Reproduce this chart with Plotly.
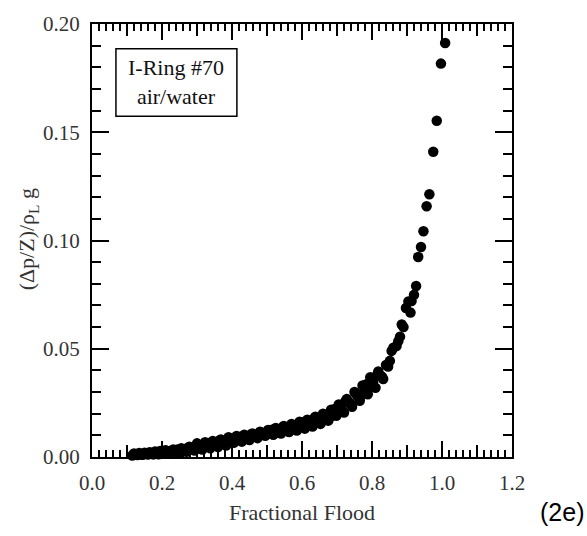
import plotly.graph_objects as go

# Fractional flood vs. specific pressure drop, I-Ring #70, air/water
# run A
flood = [
    0.115, 0.120, 0.125, 0.130, 0.135, 0.140, 0.145, 0.150, 0.155, 0.160,
    0.165, 0.170, 0.175, 0.180, 0.185, 0.190, 0.195, 0.200, 0.205, 0.210,
    0.218, 0.225, 0.232, 0.240, 0.248, 0.255, 0.263, 0.270, 0.278, 0.285,
    0.293, 0.300, 0.308, 0.315, 0.323, 0.330, 0.338, 0.345, 0.353, 0.360,
    0.368, 0.375, 0.383, 0.390, 0.398, 0.405, 0.413, 0.420, 0.428, 0.435,
    0.443, 0.450, 0.458, 0.465, 0.473, 0.480, 0.488, 0.495, 0.503, 0.510,
    0.518, 0.525, 0.533, 0.540, 0.548, 0.555, 0.563, 0.570, 0.578, 0.585,
    0.593, 0.600, 0.608, 0.615, 0.623, 0.630, 0.638, 0.645, 0.653, 0.660,
    0.668, 0.675, 0.683, 0.690, 0.698, 0.705, 0.713, 0.720, 0.728, 0.735,
    0.743, 0.750, 0.758, 0.765, 0.773, 0.780, 0.788, 0.795, 0.803, 0.810,
    0.818, 0.825, 0.832, 0.840, 0.846, 0.851, 0.856, 0.861, 0.870, 0.875,
    0.880, 0.885, 0.890, 0.897, 0.904, 0.910, 0.913, 0.920, 0.926, 0.932,
    0.940, 0.947, 0.956, 0.964, 0.975, 0.985, 0.997, 1.009,
]
dp = [
    0.0007, 0.0016, 0.0012, 0.0009, 0.0018, 0.0013, 0.0010, 0.0020, 0.0015, 0.0011,
    0.0022, 0.0017, 0.0012, 0.0025, 0.0019, 0.0013, 0.0028, 0.0022, 0.0015, 0.0031,
    0.0025, 0.0017, 0.0035, 0.0029, 0.0020, 0.0040, 0.0033, 0.0024, 0.0047, 0.0039,
    0.0030, 0.0063, 0.0049, 0.0035, 0.0068, 0.0054, 0.0040, 0.0074, 0.0060, 0.0046,
    0.0081, 0.0066, 0.0053, 0.0091, 0.0074, 0.0066, 0.0097, 0.0083, 0.0071, 0.0103,
    0.0089, 0.0078, 0.0109, 0.0096, 0.0087, 0.0117, 0.0104, 0.0098, 0.0125, 0.0112,
    0.0103, 0.0134, 0.0120, 0.0108, 0.0143, 0.0130, 0.0115, 0.0153, 0.0138, 0.0122,
    0.0163, 0.0147, 0.0131, 0.0172, 0.0158, 0.0141, 0.0186, 0.0171, 0.0153, 0.0200,
    0.0185, 0.0168, 0.0218, 0.0206, 0.0190, 0.0243, 0.0226, 0.0205, 0.0268, 0.0252,
    0.0232, 0.0300, 0.0282, 0.0260, 0.0330, 0.0310, 0.0290, 0.0368, 0.0345, 0.0320,
    0.0395, 0.0375, 0.0360, 0.0425, 0.0418, 0.0444, 0.0490, 0.0505, 0.0513, 0.0535,
    0.0556, 0.0612, 0.0600, 0.0688, 0.0718, 0.0667, 0.0720, 0.0749, 0.0790, 0.0924,
    0.0970, 0.1043, 0.1158, 0.1214, 0.1410, 0.1553, 0.1817, 0.1912,
]

# run B
flood_b = [
    0.128, 0.142, 0.158, 0.172, 0.188, 0.202, 0.214, 0.229, 0.244, 0.259,
    0.274, 0.289, 0.304, 0.319, 0.334, 0.349, 0.364, 0.379, 0.394, 0.409,
    0.424, 0.439, 0.454, 0.469, 0.484, 0.499, 0.514, 0.529, 0.544, 0.559,
    0.574, 0.589, 0.604, 0.619, 0.634, 0.649, 0.664, 0.679, 0.694, 0.709,
    0.724, 0.739, 0.754, 0.769, 0.784, 0.799, 0.814, 0.829,
]
dp_b = [
    0.0014, 0.0012, 0.0019, 0.0015, 0.0023, 0.0019, 0.0028, 0.0023, 0.0035, 0.0028,
    0.0043, 0.0035, 0.0056, 0.0045, 0.0064, 0.0054, 0.0076, 0.0063, 0.0086, 0.0076,
    0.0094, 0.0084, 0.0104, 0.0094, 0.0112, 0.0105, 0.0126, 0.0114, 0.0136, 0.0123,
    0.0147, 0.0134, 0.0160, 0.0148, 0.0177, 0.0163, 0.0196, 0.0182, 0.0222, 0.0213,
    0.0258, 0.0245, 0.0293, 0.0284, 0.0336, 0.0328, 0.0378, 0.0370,
]

x_label_vals = [0.0, 0.2, 0.4, 0.6, 0.8, 1.0, 1.2]
x_label_text = ["0.0", "0.2", "0.4", "0.6", "0.8", "1.0", "1.2"]
x_mid_vals = [0.1, 0.3, 0.5, 0.7, 0.9, 1.1]
y_label_vals = [0.0, 0.05, 0.10, 0.15, 0.20]
y_label_text = ["0.00", "0.05", "0.10", "0.15", "0.20"]

SERIF = "Liberation Serif, Times New Roman, serif"
INK = "#111111"
LABEL = "#333333"

fig = go.Figure()
for xs, ys in ((flood, dp), (flood_b, dp_b)):
    fig.add_trace(go.Scatter(
        x=xs, y=ys, mode="markers",
        marker=dict(color="black", size=10.5, line=dict(width=0)),
        cliponaxis=False, showlegend=False,
    ))

fig.update_layout(
    width=587, height=536,
    margin=dict(l=92, r=75, t=20, b=79),
    paper_bgcolor="white", plot_bgcolor="white",
    font=dict(family=SERIF, size=21, color=INK),
    xaxis=dict(
        range=[0, 1.2], showgrid=False, zeroline=False,
        showline=True, linecolor="black", linewidth=2, mirror="ticks",
        ticks="inside", ticklen=16, tickwidth=2, tickcolor="black",
        tickvals=x_label_vals, ticktext=x_label_text,
        ticklabelstandoff=6,
        tickfont=dict(family=SERIF, size=21, color=LABEL),
        minor=dict(dtick=0.02, ticks="inside", ticklen=7, tickwidth=2,
                   tickcolor="black", showgrid=False),
    ),
    xaxis2=dict(
        range=[0, 1.2], overlaying="x", anchor="y", side="bottom",
        showgrid=False, zeroline=False, showline=False, mirror="ticks",
        ticks="inside", ticklen=12, tickwidth=2, tickcolor="black",
        tickvals=x_mid_vals, showticklabels=False,
    ),
    yaxis=dict(
        range=[0, 0.2], showgrid=False, zeroline=False,
        showline=True, linecolor="black", linewidth=2, mirror="ticks",
        ticks="inside", ticklen=17, tickwidth=2, tickcolor="black",
        tickvals=y_label_vals, ticktext=y_label_text,
        ticklabelstandoff=6,
        tickfont=dict(family=SERIF, size=21, color=LABEL),
        minor=dict(dtick=0.01, ticks="inside", ticklen=9, tickwidth=2,
                   tickcolor="black", showgrid=False),
    ),
)

# empty trace so the secondary x axis (mid ticks) is drawn
fig.add_trace(go.Scatter(x=[None], y=[None], xaxis="x2", showlegend=False,
                         hoverinfo="skip"))

# label box
fig.add_shape(type="rect", xref="paper", yref="paper",
              x0=0.057, x1=0.345, y0=0.787, y1=0.943,
              line=dict(color="black", width=1.5), fillcolor="white")
fig.add_annotation(xref="paper", yref="paper", x=0.201, y=0.865,
                   xanchor="center", yanchor="middle",
                   text="I-Ring #70<br>air/water", showarrow=False,
                   font=dict(family=SERIF, size=22, color=INK), align="center")

# axis titles
fig.add_annotation(xref="paper", yref="paper", x=0.5, y=-0.128,
                   xanchor="center", yanchor="middle",
                   text="Fractional Flood", showarrow=False,
                   font=dict(family=SERIF, size=22, color=LABEL))
fig.add_annotation(xref="paper", yref="paper", x=-0.152, y=0.503,
                   text="(Δp/Z)/ρ<sub>L</sub> g", showarrow=False, textangle=-90,
                   xanchor="center", yanchor="middle",
                   font=dict(family=SERIF, size=22, color=LABEL))
fig.add_annotation(xref="paper", yref="paper", x=1.118, y=-0.128,
                   text="(2e)", showarrow=False, xanchor="center", yanchor="middle",
                   font=dict(family="Liberation Sans, Arial, sans-serif", size=25,
                             color="black"))

fig.write_html("out.html")
